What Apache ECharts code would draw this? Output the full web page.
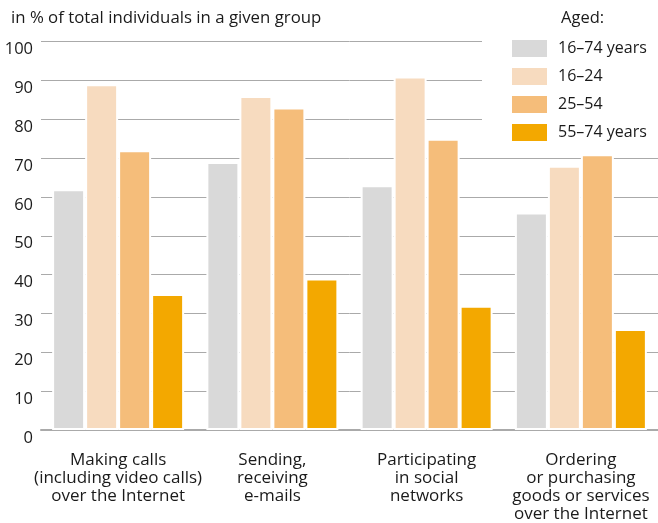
<!DOCTYPE html>
<html>
<head>
<meta charset="utf-8">
<script src="https://cdn.jsdelivr.net/npm/echarts@6/dist/echarts.min.js"></script>
<style>
html,body{margin:0;padding:0;background:#fff;}
#c{width:658px;height:523px;}
</style>
</head>
<body>
<div id="c"></div>
<script>
var categories = [
  "Making calls\n(including video calls)\nover the Internet",
  "Sending,\nreceiving\ne-mails",
  "Participating\nin social\nnetworks",
  "Ordering\nor purchasing\ngoods or services\nover the Internet"
];
var seriesNames = ["16\u201374 years", "16\u201324", "25\u201354", "55\u201374 years"];
var aged16_74 = [62, 69, 63, 56];
var aged16_24 = [89, 86, 91, 68];
var aged25_54 = [72, 83, 75, 71];
var aged55_74 = [35, 39, 32, 26];
var colors = ["#d9d9d9", "#f7dbbf", "#f5bd7a", "#f3a800"];
var FONT = "Open Sans";

var chart = echarts.init(document.getElementById('c'), null, {renderer: 'canvas'});
var dataSets = [aged16_74, aged16_24, aged25_54, aged55_74];
var series = dataSets.map(function (d, i) {
  return {
    name: seriesNames[i],
    type: 'bar',
    data: d,
    barWidth: 33,
    barGap: '0%',
    itemStyle: {color: colors[i], borderColor: '#ffffff', borderWidth: 2},
    emphasis: {disabled: true}
  };
});
chart.setOption({
  animation: false,
  textStyle: {fontFamily: FONT},
  title: [
    {text: 'in % of total individuals in a given group', left: 6, top: 5,
     textStyle: {fontSize: 16.8, fontWeight: 'normal', color: '#1a1a1a', fontFamily: FONT}},
    {text: 'Aged:', left: 556, top: 5,
     textStyle: {fontSize: 16.5, fontWeight: 'normal', color: '#1a1a1a', fontFamily: FONT}}
  ],
  legend: {
    orient: 'vertical',
    left: 482,
    top: 36,
    padding: [2, 20, 6, 28],
    backgroundColor: '#ffffff',
    itemWidth: 37,
    itemHeight: 19,
    itemGap: 7,
    icon: 'rect',
    data: seriesNames,
    textStyle: {fontSize: 16, color: '#1a1a1a', fontFamily: FONT, padding: [0, 0, 0, 5]},
    selectedMode: false
  },
  grid: {left: 41, right: 0, top: 41.5, bottom: 93, containLabel: false},
  xAxis: {
    type: 'category',
    data: categories,
    axisLine: {show: true, lineStyle: {color: '#aaaaaa', width: 2}},
    axisTick: {show: false},
    axisLabel: {interval: 0, margin: 21, fontSize: 17, lineHeight: 18, color: '#1a1a1a', fontFamily: FONT}
  },
  yAxis: {
    type: 'value',
    min: 0,
    max: 100,
    interval: 10,
    axisLine: {show: false},
    axisTick: {show: false},
    axisLabel: {fontSize: 16.5, color: '#1a1a1a', margin: 8, fontFamily: FONT, verticalAlign: 'top', lineHeight: 16},
    splitLine: {show: true, lineStyle: {color: '#aaaaaa', width: 1}}
  },
  series: series
});
</script>
</body>
</html>
